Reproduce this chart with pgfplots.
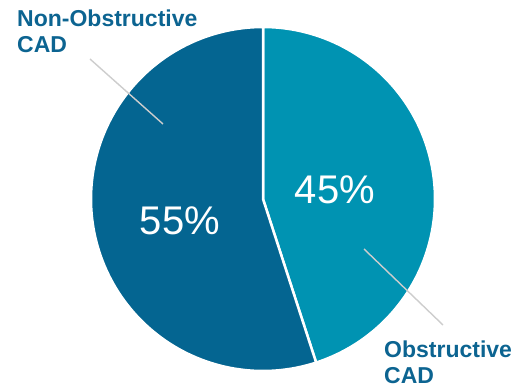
\documentclass[border=0pt]{standalone}
\usepackage{pgfplots}
\pgfplotsset{compat=1.18}
\usepackage{pgfplotstable}
\usepackage{fontspec}
\setmainfont{Liberation Sans}
\definecolor{darkslice}{RGB}{4,101,145}
\definecolor{tealslice}{RGB}{0,147,178}
\definecolor{labelblue}{RGB}{12,100,145}
\definecolor{leader}{RGB}{205,205,205}
\pgfplotstableread{
label value
Obstructive 45
NonObstructive 55
}\piedata
\pgfplotstablegetelem{0}{value}\of\piedata \let\valA\pgfplotsretval
\pgfplotstablegetelem{1}{value}\of\piedata \let\valB\pgfplotsretval
\pgfmathsetmacro\angA{3.6*\valA}
\pgfmathsetmacro\angB{3.6*(\valA+\valB)}
\begin{document}
\begin{tikzpicture}
\begin{axis}[x=1pt,y=1pt,xmin=0,xmax=520,ymin=0,ymax=389,hide axis,scale only axis,clip=false]
\draw[draw=none] (axis cs:0,0) rectangle (axis cs:520,389);
\addplot[fill=tealslice, draw=white, line width=2.5pt, line join=round, domain=0:\angA, samples=120, variable=\t]
  ({263+172*sin(\t)},{190+172*cos(\t)}) -- (axis cs:263,190) -- cycle;
\addplot[fill=darkslice, draw=white, line width=2.5pt, line join=round, domain=\angA:\angB, samples=150, variable=\t]
  ({263+172*sin(\t)},{190+172*cos(\t)}) -- (axis cs:263,190) -- cycle;
\addplot[leader, line width=1.4pt] coordinates {(90,330) (163,265)};
\addplot[leader, line width=1.4pt] coordinates {(364,140) (443,64)};
\node[text=white, font=\fontsize{40}{44}\selectfont, inner sep=0] at (axis cs:180,168) {\valB\%};
\node[text=white, font=\fontsize{40}{44}\selectfont, inner sep=0] at (axis cs:335,199) {\valA\%};
\node[text=labelblue, font=\fontsize{23}{26}\selectfont\bfseries, align=left, anchor=north west, inner sep=0] at (axis cs:17,379) {Non-Obstructive\\CAD};
\node[text=labelblue, font=\fontsize{23}{25.5}\selectfont\bfseries, align=left, anchor=north west, inner sep=0] at (axis cs:384,48) {Obstructive\\CAD};
\end{axis}
\end{tikzpicture}
\end{document}
